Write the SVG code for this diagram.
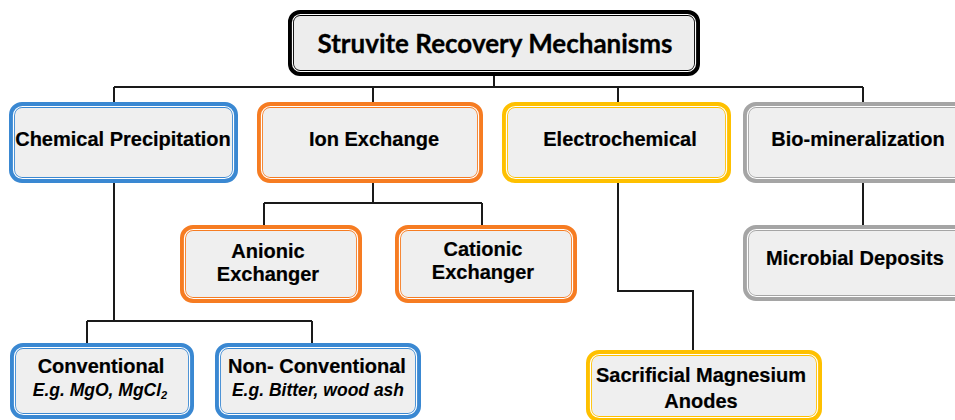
<svg xmlns="http://www.w3.org/2000/svg" width="955" height="420" viewBox="0 0 955 420">
<style>
.bx{fill:#efefef;stroke-width:6}
.in{fill:none;stroke:#ffffff;stroke-width:1.2}
.blue{stroke:#3a88d2}
.orange{stroke:#f67c22}
.yellow{stroke:#fec000}
.gray{stroke:#a5a5a5}
.t{font-family:"Liberation Sans",Arial,sans-serif;font-weight:bold;font-size:20px;fill:#000;text-anchor:middle;stroke:#000;stroke-width:0.2}
.i{font-family:"Liberation Sans",Arial,sans-serif;font-weight:bold;font-style:italic;font-size:17.5px;fill:#000;text-anchor:middle}
.title{font-family:Lato,"Open Sans",sans-serif;font-weight:bold;font-size:26px;fill:#000;text-anchor:middle;stroke:#000;stroke-width:0.3}
.c{fill:none;stroke:#1a1a1a;stroke-width:2}
</style>
<rect width="955" height="420" fill="#ffffff"/>
<g id="connectors">
<path class="c" d="M494 73V87M114 87H863M114 87V105M373 87V105M618 87V105M863 87V105"/>
<path class="c" d="M373 180V203M264 203H482M264 203V228M482 203V228"/>
<path class="c" d="M114 180V321M87 321H312M87 321V346M312 321V346"/>
<path class="c" d="M618 180V291H693V353"/>
<path class="c" d="M863 180V228"/>
</g>
<g id="title">
<rect x="291" y="13" width="406" height="60" rx="9" fill="#ededed" stroke="#000" stroke-width="6"/>
<rect x="292.5" y="14.5" width="403" height="57" rx="8" class="in"/>
<text x="495" y="53" class="title">Struvite Recovery Mechanisms</text>
</g>
<g id="chemical">
<rect x="12" y="105" width="223" height="75" rx="10" class="bx blue"/>
<rect x="13.5" y="106.5" width="220" height="72" rx="9" class="in"/>
<text x="123" y="146" class="t">Chemical Precipitation</text>
</g>
<g id="ion">
<rect x="260" y="105" width="220" height="75" rx="10" class="bx orange"/>
<rect x="261.5" y="106.5" width="217" height="72" rx="9" class="in"/>
<text x="374" y="146" class="t">Ion Exchange</text>
</g>
<g id="electro">
<rect x="505" y="105" width="223" height="75" rx="10" class="bx yellow"/>
<rect x="506.5" y="106.5" width="220" height="72" rx="9" class="in"/>
<text x="620" y="146" class="t">Electrochemical</text>
</g>
<g id="bio">
<rect x="746" y="105" width="232" height="75" rx="10" class="bx gray"/>
<rect x="747.5" y="106.5" width="229" height="72" rx="9" class="in"/>
<text x="858" y="146" class="t">Bio-mineralization</text>
</g>
<g id="anionic">
<rect x="183" y="228" width="176" height="72" rx="10" class="bx orange"/>
<rect x="184.5" y="229.5" width="173" height="69" rx="9" class="in"/>
<text x="268" y="258" class="t">Anionic</text>
<text x="268" y="281" class="t">Exchanger</text>
</g>
<g id="cationic">
<rect x="398" y="228" width="176" height="72" rx="10" class="bx orange"/>
<rect x="399.5" y="229.5" width="173" height="69" rx="9" class="in"/>
<text x="483" y="256" class="t">Cationic</text>
<text x="483" y="279" class="t">Exchanger</text>
</g>
<g id="microbial">
<rect x="746" y="228" width="232" height="70" rx="10" class="bx gray"/>
<rect x="747.5" y="229.5" width="229" height="67" rx="9" class="in"/>
<text x="855" y="265" class="t">Microbial Deposits</text>
</g>
<g id="conventional">
<rect x="13" y="346" width="178" height="70" rx="10" class="bx blue"/>
<rect x="14.5" y="347.5" width="175" height="67" rx="9" class="in"/>
<text x="101" y="373" class="t">Conventional</text>
<text x="100" y="396" class="i">E.g. MgO, MgCl<tspan font-size="11" dy="3">2</tspan></text>
</g>
<g id="nonconventional">
<rect x="218" y="346" width="200" height="70" rx="10" class="bx blue"/>
<rect x="219.5" y="347.5" width="197" height="67" rx="9" class="in"/>
<text x="317" y="373" class="t">Non- Conventional</text>
<text x="318" y="396" class="i">E.g. Bitter, wood ash</text>
</g>
<g id="sacrificial">
<rect x="589" y="353" width="230" height="66" rx="10" class="bx yellow"/>
<rect x="590.5" y="354.5" width="227" height="63" rx="9" class="in"/>
<text x="701" y="382" class="t">Sacrificial Magnesium</text>
<text x="701" y="408" class="t">Anodes</text>
</g>
</svg>
